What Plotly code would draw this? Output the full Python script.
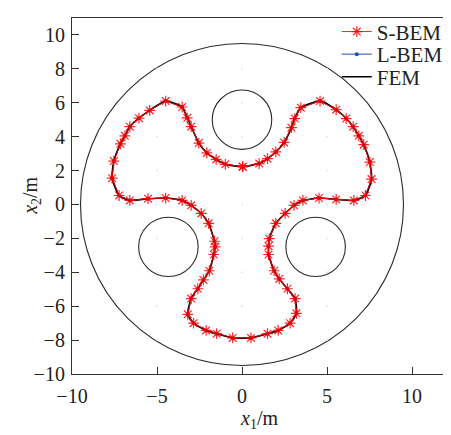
import plotly.graph_objects as go

# Boundary curve points, ordered around the trefoil
curve_x = [0.04, 1.01, 1.50, 1.99, 2.48, 2.91, 3.10, 3.46, 4.59, 5.54, 6.13, 6.54, 6.87, 7.16,
           7.52, 7.62, 7.26, 6.58, 5.54, 4.53, 3.58, 3.06, 2.54, 1.99, 1.60, 1.56, 1.56, 1.89,
           2.19, 2.67, 3.12, 3.20, 2.83, 2.13, 1.50, 0.53, -0.55, -1.49, -2.11, -2.85, -3.19,
           -2.99, -2.60, -2.27, -1.92, -1.66, -1.58, -1.62, -1.96, -2.40, -2.99, -3.52, -4.49,
           -5.53, -6.60, -7.23, -7.64, -7.54, -7.15, -6.89, -6.60, -6.06, -5.43, -4.49, -3.52,
           -3.22, -2.99, -2.54, -2.07, -1.52, -0.98, 0.04]
curve_y = [2.23, 2.41, 2.70, 3.10, 3.66, 4.53, 5.07, 5.71, 6.10, 5.59, 5.07, 4.59, 4.05, 3.53,
           2.50, 1.50, 0.53, 0.24, 0.30, 0.38, 0.24, -0.05, -0.53, -1.11, -2.02, -2.46, -2.95,
           -3.91, -4.39, -4.97, -5.55, -6.42, -7.00, -7.43, -7.62, -7.87, -7.87, -7.62, -7.43,
           -7.00, -6.48, -5.55, -4.97, -4.45, -3.91, -2.95, -2.50, -2.17, -1.11, -0.53, -0.05,
           0.24, 0.38, 0.34, 0.24, 0.53, 1.55, 2.56, 3.58, 4.05, 4.59, 5.09, 5.55, 6.10, 5.75,
           5.11, 4.59, 3.62, 3.04, 2.66, 2.37, 2.23]

# Circles: outer boundary and three holes (center x, center y, radius)
circle_cx = [0.0, 0.0, -4.33, 4.33]
circle_cy = [0.0, 5.0, -2.5, -2.5]
circle_r = [9.5, 1.75, 1.75, 1.75]

# faint interior sample points
grid_x = [-5, 0, 5]
grid_y = [-8, -6, -4, -2, 0, 2, 4, 6, 8]

x_ticks = [-10, -5, 0, 5, 10]
y_ticks = [-10, -8, -6, -4, -2, 0, 2, 4, 6, 8, 10]

FONT = "Liberation Serif"
TXT = "#222222"

fig = go.Figure()

gx = [x for x in grid_x for y in grid_y]
gy = [y for x in grid_x for y in grid_y]
fig.add_trace(go.Scatter(x=gx, y=gy, mode="markers", showlegend=False, hoverinfo="skip",
                         marker=dict(size=2, color="#e6e6e6")))

fig.add_trace(go.Scatter(x=curve_x, y=curve_y, mode="lines+markers", name="L-BEM",
                         legend="legend2",
                         line=dict(color="#1f4fb4", width=1),
                         marker=dict(symbol="circle", size=4, color="#1f4fb4")))
fig.add_trace(go.Scatter(x=curve_x, y=curve_y, mode="lines", name="FEM", legend="legend3",
                         line=dict(color="black", width=1.6, shape="spline", smoothing=0.6)))
fig.add_trace(go.Scatter(x=curve_x, y=curve_y, mode="lines+markers", name="S-BEM",
                         legend="legend",
                         line=dict(color="rgba(255,0,0,0.85)", width=1),
                         marker=dict(symbol="asterisk-open", size=9,
                                     line=dict(color="rgba(255,30,30,0.85)", width=1.2))))

shapes = []
for cx, cy, r in zip(circle_cx, circle_cy, circle_r):
    shapes.append(dict(type="circle", xref="x", yref="y", x0=cx - r, x1=cx + r,
                       y0=cy - r, y1=cy + r, line=dict(color="#2a2a2a", width=1.1),
                       layer="below"))

axis_common = dict(showgrid=False, zeroline=False, showline=True, mirror=True,
                   linecolor="#333333", linewidth=1.2, ticks="inside", ticklen=7,
                   tickcolor="#333333", tickwidth=1.2, automargin=False,
                   tickfont=dict(family=FONT, size=20, color=TXT))


def leg(ypos):
    return dict(x=0.708, y=ypos, xanchor="left", yanchor="middle", bgcolor="rgba(0,0,0,0)",
                font=dict(family=FONT, size=21, color=TXT), itemwidth=30)


# page body has a default 8px margin; figure is sized to fit the 451x435 window
fig.update_layout(
    width=443, height=427,
    margin=dict(l=64, r=3, t=5, b=61),
    paper_bgcolor="white", plot_bgcolor="white",
    shapes=shapes,
    xaxis=dict(range=[-10, 12], tickvals=x_ticks, ticklabelstandoff=4, **axis_common),
    yaxis=dict(range=[-10, 11], tickvals=y_ticks, ticklabelstandoff=2, **axis_common),
    legend=leg(0.961),
    legend2=leg(0.8975),
    legend3=leg(0.834),
    showlegend=True,
    annotations=[
        dict(text="<i>x</i><sub>1</sub>/m", xref="paper", yref="paper", x=0.5, y=-0.127,
             xanchor="center", yanchor="middle", showarrow=False,
             font=dict(family=FONT, size=20, color=TXT)),
        dict(text="<i>x</i><sub>2</sub>/m", xref="paper", yref="paper", x=-0.11, y=0.5,
             xanchor="center", yanchor="middle", textangle=-90, showarrow=False,
             font=dict(family=FONT, size=20, color=TXT)),
    ],
)

fig.write_html("out.html")
